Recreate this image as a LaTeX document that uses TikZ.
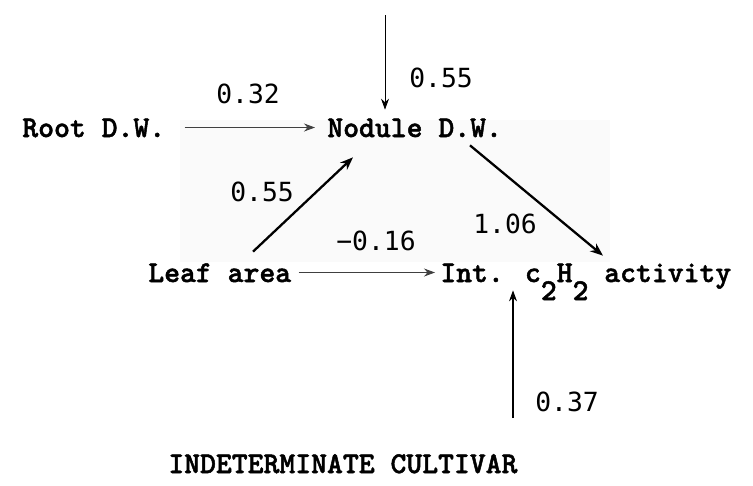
\documentclass[tikz,border=0pt]{standalone}
\usepackage{fontspec}
\newfontfamily\maqfont[FakeBold=1.6]{lmmonolt10-bold.otf}
\newfontfamily\numfont{DejaVu Sans Mono}
\usepackage{tikz}
\usetikzlibrary{arrows.meta}
\tikzset{
  nodo/.style={font=\maqfont\fontsize{17.2}{20}\selectfont,inner sep=0pt,anchor=base west,text height=3.8mm,text depth=0pt},
  coef/.style={font=\numfont\fontsize{15}{18}\selectfont,inner sep=0pt},
  fina/.style={-{Stealth[length=2.2mm,width=1.6mm]},line width=0.5pt},
  gruesa/.style={-{Stealth[length=2.6mm,width=2mm]},line width=1.3pt}
}

\begin{document}
\begin{tikzpicture}[x=0.2mm,y=-0.2mm]
\useasboundingbox (0,0) rectangle (753,485);
\fill[black!2] (180,120) rectangle (610,262);
\node[nodo] (root) at (22,137) {Root D.W.};
\node[nodo] (nodule) at (327,137) {Nodule D.W.};
\node[nodo] (leaf) at (148,282) {Leaf area};
\node[nodo] (intact) at (440,282) {Int. c\raisebox{-3.6mm}{2}H\raisebox{-3.6mm}{2} activity};
\node[nodo] (titulo) at (168,473) {INDETERMINATE CULTIVAR};
\coordinate (arriba) at (385,15);
\coordinate (abajo) at (513,418);
\draw[fina,black!75,shorten <=3.8mm,shorten >=2.4mm] (root.east) -- (nodule.west);
\draw[fina] (arriba) -- (arriba |- nodule.north) [shorten >=1.6mm];
\draw[gruesa] ([shift={(105,-11)}]leaf.north west) -- ([shift={(26,20)}]nodule.south west);
\draw[gruesa] ([shift={(143,8)}]nodule.south west) -- ([shift={(163,-7)}]intact.north west);
\draw[fina,black!75,shorten <=1.4mm,shorten >=1mm] (leaf.east) -- (intact.west);
\draw[fina,line width=0.7pt,shorten >=1.6mm] (abajo) -- (abajo |- intact.south);
\node[coef] (w32) at (248,94) {0.32};
\node[coef] (w55a) at (441,78) {0.55};
\node[coef] (w55b) at (262,192) {0.55};
\node[coef] (w16) at (376,241) {−0.16};
\node[coef] (w106) at (505,224) {1.06};
\node[coef] (w37) at (567,402) {0.37};
\end{tikzpicture}
\end{document}
